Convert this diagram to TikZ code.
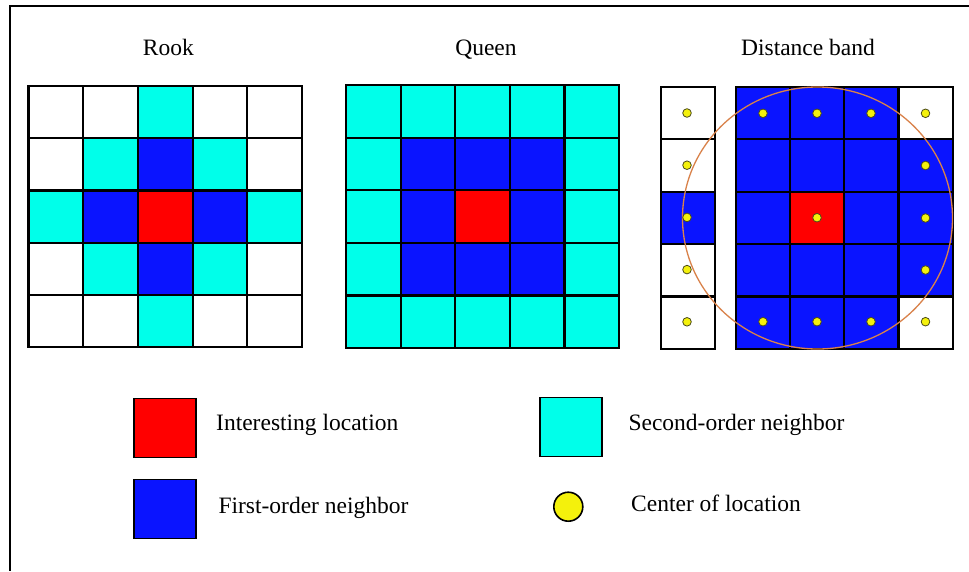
\documentclass[tikz,border=0pt]{standalone}
\usepackage{fontspec}
\setmainfont{Liberation Serif}
\definecolor{cellred}{HTML}{FF0000}
\definecolor{cellblue}{HTML}{0A14FF}
\definecolor{cellcyan}{HTML}{00FFEA}
\definecolor{dotyellow}{HTML}{F4F10C}
\definecolor{dotrim}{HTML}{4A4A1A}
\definecolor{bandring}{HTML}{D9824A}
\tikzset{
  gridline/.style={black, line width=2.2pt, line cap=rect},
  title/.style={font=\fontsize{23.5}{28}\selectfont, anchor=base, inner sep=0pt},
  legtext/.style={font=\fontsize{23.5}{28}\selectfont, anchor=base west, inner sep=0pt},
  legsq/.style={draw=black, line width=1.5pt, minimum width=62pt, minimum height=59pt, inner sep=0pt},
  centerdot/.style={fill=dotyellow, draw=dotrim, line width=0.8pt},
}
\begin{document}
\begin{tikzpicture}[x=1pt, y=-1pt]
\useasboundingbox (0,0) rectangle (969,571);
\fill[white] (0,0) rectangle (969,571);

% frame (top and left edges)
\draw[black, line width=1.6pt] (969,6) -- (10,6) -- (10,571);

% titles
\node[title] (trook) at (168.3,55) {Rook};
\node[title] (tqueen) at (486,55) {Queen};
\node[title] (tband) at (808,55) {Distance band};

% ---- Rook contiguity: colour by city-block distance from the centre
\def\rw{54.7}\def\rh{52.2}
\foreach \r in {0,...,4} {
  \foreach \c in {0,...,4} {
    \pgfmathtruncatemacro\d{abs(\r-2)+abs(\c-2)}
    \ifcase\d \def\cc{cellred}\or \def\cc{cellblue}\or \def\cc{cellcyan}\else \def\cc{white}\fi
    \fill[\cc] ({28.5+\c*\rw},{86+\r*\rh}) rectangle ++(\rw,\rh);
  }
}
\foreach \i in {0,...,5} {
  \draw[gridline] ({28.5+\i*\rw},86) -- ++(0,{5*\rh});
  \draw[gridline] (28.5,{86+\i*\rh}) -- ++({5*\rw},0);
}

% ---- Queen contiguity: colour by chessboard distance from the centre
\def\qw{54.6}\def\qh{52.6}
\foreach \r in {0,...,4} {
  \foreach \c in {0,...,4} {
    \pgfmathtruncatemacro\d{max(abs(\r-2),abs(\c-2))}
    \ifcase\d \def\cc{cellred}\or \def\cc{cellblue}\else \def\cc{cellcyan}\fi
    \fill[\cc] ({346+\c*\qw},{85+\r*\qh}) rectangle ++(\qw,\qh);
  }
}
\foreach \i in {0,...,5} {
  \draw[gridline] ({346+\i*\qw},85) -- ++(0,{5*\qh});
  \draw[gridline] (346,{85+\i*\qh}) -- ++({5*\qw},0);
}

% ---- Distance band: detached left column and a 4-column block
\def\bw{54.25}\def\bh{52.46}
\foreach \r in {0,...,4} {
  \pgfmathtruncatemacro\isblue{\r==2}
  \ifnum\isblue=1 \def\cc{cellblue}\else \def\cc{white}\fi
  \fill[\cc] (660.7,{86.7+\r*\bh}) rectangle ++(54.6,\bh);
  \draw[gridline] (660.7,{86.7+\r*\bh}) rectangle ++(54.6,\bh);
}
\foreach \r/\c/\cc in {0/0/cellblue,0/1/cellblue,0/2/cellblue,0/3/white,
                       1/0/cellblue,1/1/cellblue,1/2/cellblue,1/3/cellblue,
                       2/0/cellblue,2/1/cellred,2/2/cellblue,2/3/cellblue,
                       3/0/cellblue,3/1/cellblue,3/2/cellblue,3/3/cellblue,
                       4/0/cellblue,4/1/cellblue,4/2/cellblue,4/3/white} {
  \fill[\cc] ({735.7+\c*\bw},{86.7+\r*\bh}) rectangle ++(\bw,\bh);
}
\foreach \i in {0,...,4} \draw[gridline] ({735.7+\i*\bw},86.7) -- ++(0,{5*\bh});
\foreach \i in {0,...,5} \draw[gridline] (735.7,{86.7+\i*\bh}) -- ++({4*\bw},0);

% band radius around the focal cell
\draw[bandring, line width=1.3pt] (817.5,218) ellipse [x radius=135, y radius=131];

% cell centres
\foreach \r in {0,...,4} \filldraw[centerdot] (687,{113+\r*52.2}) circle (4.3);
\foreach \x in {763,817,871,925.5} {
  \filldraw[centerdot] (\x,113.3) circle (4.3);
  \filldraw[centerdot] (\x,321.7) circle (4.3);
}
\foreach \y in {165.5,218,270} \filldraw[centerdot] (925.5,\y) circle (4.3);
\filldraw[centerdot] (817,217.7) circle (4.3);

% ---- legend
\node[legsq, fill=cellred] (kred) at (165,427.8) {};
\node[legsq, fill=cellblue] (kblue) at (165,509.2) {};
\node[legsq, fill=cellcyan] (kcyan) at (570.8,427) {};
\node[circle, fill=dotyellow, draw=black, line width=1.6pt, minimum size=29pt, inner sep=0pt] (kdot) at (568.3,506.7) {};

\node[legtext] (lred) at (216,430) {Interesting location};
\node[legtext] (lblue) at (218.3,513) {First-order neighbor};
\node[legtext] (lcyan) at (628.3,430.7) {Second-order neighbor};
\node[legtext] (ldot) at (631,511.7) {Center of location};
\end{tikzpicture}
\end{document}
